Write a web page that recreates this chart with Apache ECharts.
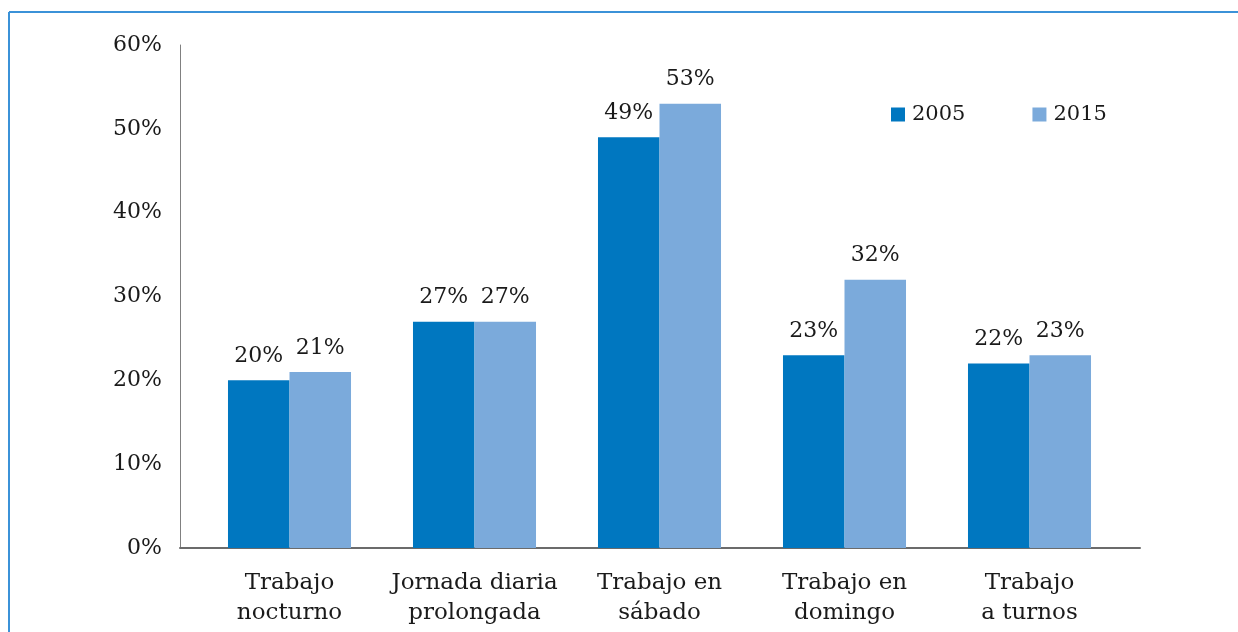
<!DOCTYPE html>
<html>
<head>
<meta charset="utf-8">
<script src="https://cdn.jsdelivr.net/npm/echarts@6/dist/echarts.min.js"></script>
<style>
  html, body { margin: 0; padding: 0; background: #fff; }
  #main { width: 1238px; height: 632px; }
</style>
</head>
<body>
<div id="main"></div>
<script>
// datos
var categorias = ['Trabajo\nnocturno', 'Jornada diaria\nprolongada', 'Trabajo en\nsábado', 'Trabajo en\ndomingo', 'Trabajo\na turnos']
var anios = ['2005', '2015']
var valores2005 = [20, 27, 49, 23, 22]
var valores2015 = [21, 27, 53, 32, 23]
var colores = ['#0077c0', '#7baadb']

var fuente = 'DejaVu Serif'
var myChart = echarts.init(document.getElementById('main'))

var etiqueta = { show: true, position: 'top', distance: 13, formatter: '{c}%', fontFamily: fuente, fontSize: 22, color: '#1a1a1a' }

var option = {
  backgroundColor: '#fff',
  animation: false,
  textStyle: { fontFamily: fuente, color: '#1a1a1a' },
  graphic: [
    // marco azul del recuadro
    { type: 'line', shape: { x1: 9, y1: 12, x2: 1238, y2: 12 }, style: { stroke: '#3b92d8', lineWidth: 2 } },
    { type: 'line', shape: { x1: 9, y1: 12, x2: 9, y2: 632 }, style: { stroke: '#3b92d8', lineWidth: 2 } }
  ],
  legend: {
    data: anios,
    left: 886,
    top: 99,
    itemWidth: 14,
    itemHeight: 14,
    itemGap: 67,
    icon: 'rect',
    textStyle: { fontFamily: fuente, fontSize: 21, color: '#1a1a1a', padding: [0, 0, 0, 2] }
  },
  grid: [
    // barras
    { left: 197, right: 116, top: 45, bottom: 84 },
    // ejes visibles
    { left: 180, right: 98, top: 45, bottom: 84 }
  ],
  xAxis: [
    {
      type: 'category',
      gridIndex: 0,
      data: categorias,
      axisLine: { show: false },
      axisTick: { show: false },
      axisLabel: { interval: 0, fontFamily: fuente, fontSize: 23, color: '#1a1a1a', lineHeight: 30, margin: 20 }
    },
    {
      type: 'value',
      gridIndex: 1,
      min: 0,
      max: 1,
      axisLine: { show: true, lineStyle: { color: '#6b6b6b', width: 2 } },
      axisTick: { show: false },
      axisLabel: { show: false },
      splitLine: { show: false }
    }
  ],
  yAxis: [
    {
      type: 'value',
      gridIndex: 0,
      min: 0,
      max: 60,
      interval: 10,
      show: false
    },
    {
      type: 'value',
      gridIndex: 1,
      min: 0,
      max: 60,
      interval: 10,
      axisLine: { show: true, lineStyle: { color: '#808080', width: 1 } },
      axisTick: { show: false },
      splitLine: { show: false },
      axisLabel: { formatter: '{value}%', fontFamily: fuente, fontSize: 22, color: '#1a1a1a', margin: 18 }
    }
  ],
  series: [
    {
      name: anios[0],
      type: 'bar',
      data: valores2005,
      barGap: '0%',
      barCategoryGap: '33.5%',
      itemStyle: { color: colores[0] },
      label: etiqueta
    },
    {
      name: anios[1],
      type: 'bar',
      data: valores2015,
      barGap: '0%',
      barCategoryGap: '33.5%',
      itemStyle: { color: colores[1] },
      label: etiqueta
    }
  ]
}

myChart.setOption(option)
</script>
</body>
</html>
